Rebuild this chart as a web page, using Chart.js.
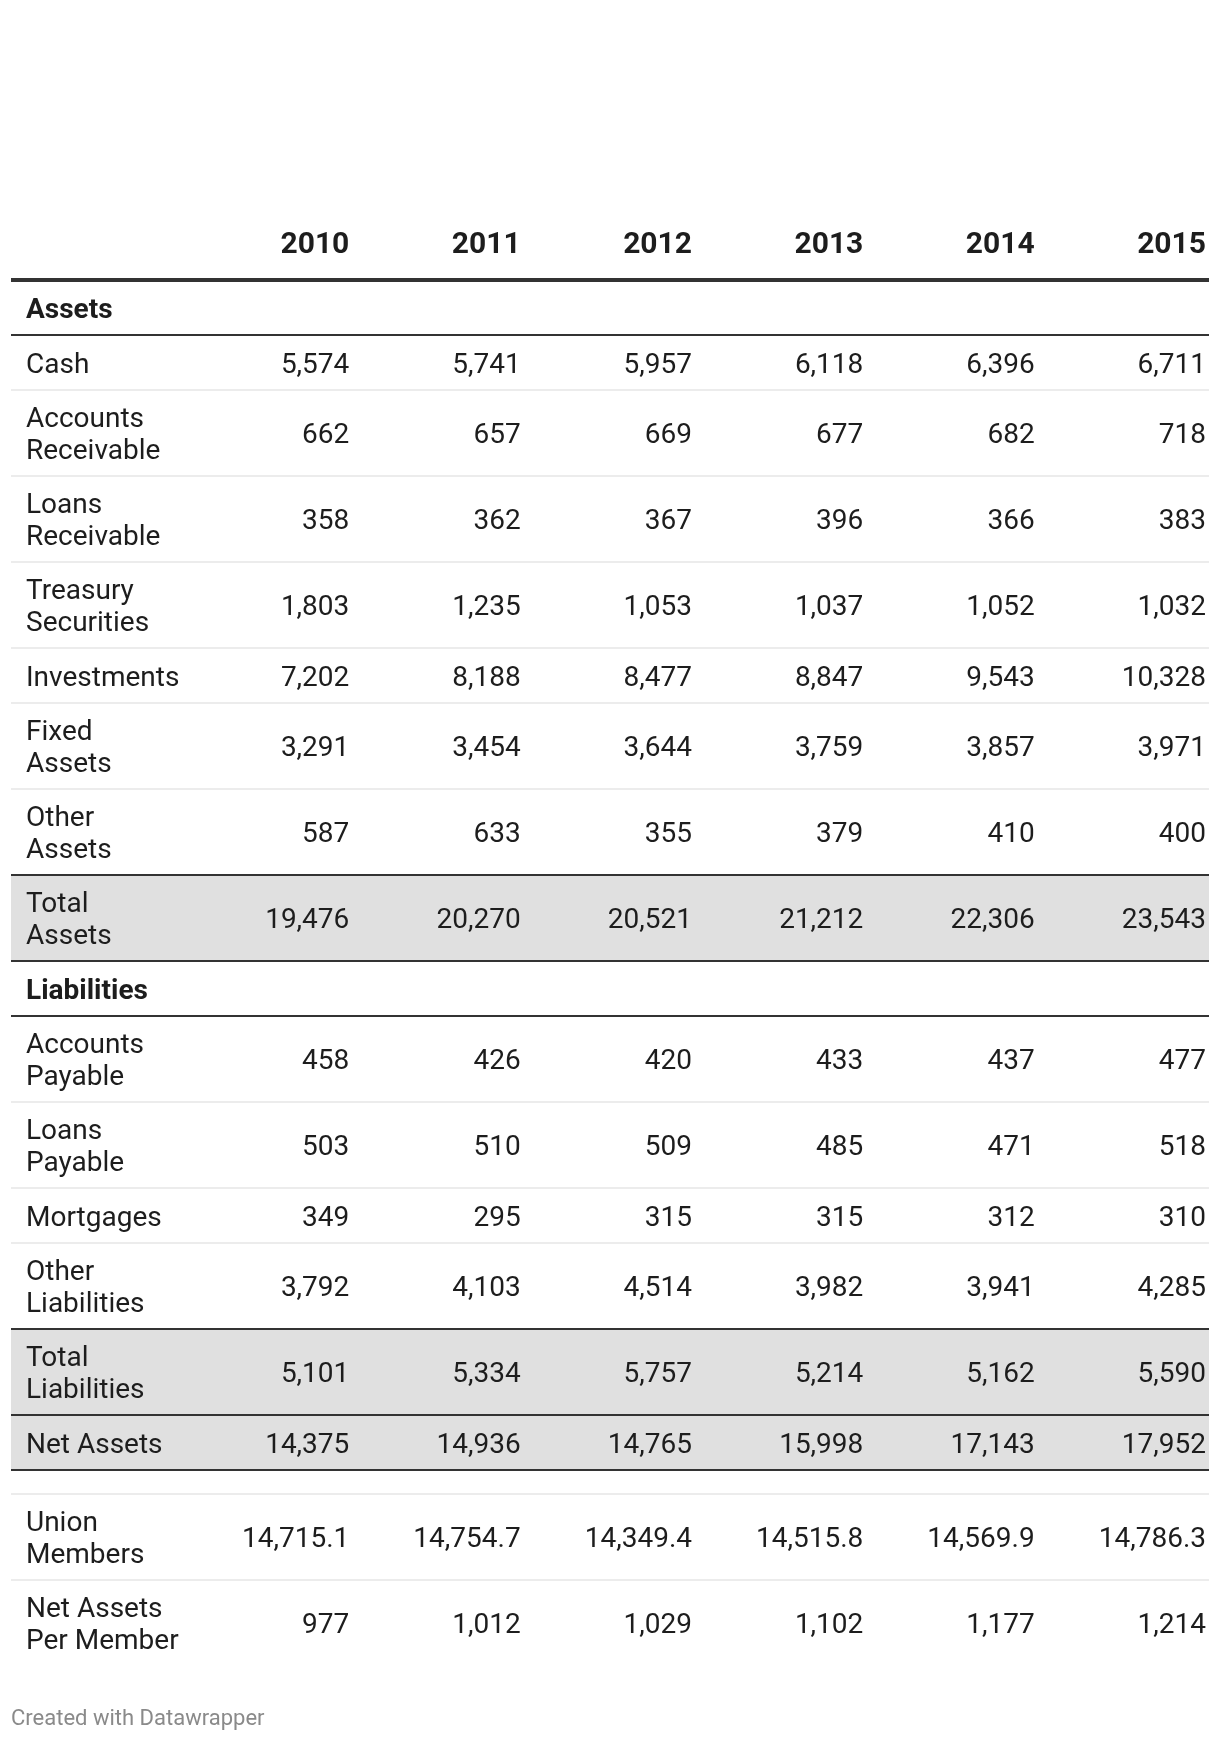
<!DOCTYPE html>
<html>
<head>
<meta charset="utf-8">
<script src="https://cdn.jsdelivr.net/npm/chart.js@4.4.1/dist/chart.umd.min.js"></script>
<style>
    html, body { margin: 0; padding: 0; background: #fff; }
    #wrap { width: 1220px; height: 1742px; }
</style>
</head>
<body>
<div id="wrap"><canvas id="tableChart" width="1220" height="1742"></canvas></div>
<script>
// columns
const years = ['2010', '2011', '2012', '2013', '2014', '2015'];

// assets (values as shown)
const cash = [5574, 5741, 5957, 6118, 6396, 6711];
const accountsReceivable = [662, 657, 669, 677, 682, 718];
const loansReceivable = [358, 362, 367, 396, 366, 383];
const treasurySecurities = [1803, 1235, 1053, 1037, 1052, 1032];
const investments = [7202, 8188, 8477, 8847, 9543, 10328];
const fixedAssets = [3291, 3454, 3644, 3759, 3857, 3971];
const otherAssets = [587, 633, 355, 379, 410, 400];
const totalAssets = [19476, 20270, 20521, 21212, 22306, 23543];

// liabilities
const accountsPayable = [458, 426, 420, 433, 437, 477];
const loansPayable = [503, 510, 509, 485, 471, 518];
const mortgages = [349, 295, 315, 315, 312, 310];
const otherLiabilities = [3792, 4103, 4514, 3982, 3941, 4285];
const totalLiabilities = [5101, 5334, 5757, 5214, 5162, 5590];
const netAssets = [14375, 14936, 14765, 15998, 17143, 17952];

// membership
const unionMembers = [14715.1, 14754.7, 14349.4, 14515.8, 14569.9, 14786.3];
const netAssetsPerMember = [977, 1012, 1029, 1102, 1177, 1214];

// rows of the table, built from the arrays above
const tableRows = [
    { kind: 'section', label: 'Assets', rule: 'dark' },
    { label: 'Cash', values: cash },
    { label: 'Accounts\nReceivable', values: accountsReceivable },
    { label: 'Loans\nReceivable', values: loansReceivable },
    { label: 'Treasury\nSecurities', values: treasurySecurities },
    { label: 'Investments', values: investments },
    { label: 'Fixed\nAssets', values: fixedAssets },
    { label: 'Other\nAssets', values: otherAssets, rule: 'dark' },
    { label: 'Total\nAssets', values: totalAssets, shaded: true, rule: 'dark' },
    { kind: 'section', label: 'Liabilities', rule: 'dark' },
    { label: 'Accounts\nPayable', values: accountsPayable },
    { label: 'Loans\nPayable', values: loansPayable },
    { label: 'Mortgages', values: mortgages },
    { label: 'Other\nLiabilities', values: otherLiabilities, rule: 'dark' },
    { label: 'Total\nLiabilities', values: totalLiabilities, shaded: true, rule: 'dark' },
    { label: 'Net Assets', values: netAssets, shaded: true, rule: 'dark' },
    { kind: 'spacer' },
    { label: 'Union\nMembers', values: unionMembers, decimals: 1 },
    { label: 'Net Assets\nPer Member', values: netAssetsPerMember, rule: 'none' }
];

// layout
const labelColumnWidth = 170;
const headerTextY = 245;
const headerRuleY = 280;
const lineGap = 32;
const textShift = 3; // canvas 'middle' sits a bit high for Roboto
const textColor = '#1d1d1d';
const fontFamily = 'Roboto, "Noto Sans", sans-serif';

function rowHeight(row) {
    if (row.kind === 'spacer') return 24;
    const lines = row.label.split('\n').length;
    return lines > 1 ? 86 : 55;
}

function fmt(v, decimals) {
    return v.toLocaleString('en-US', {
        minimumFractionDigits: decimals || 0,
        maximumFractionDigits: decimals || 0
    });
}

const tablePlugin = {
    id: 'tablePlugin',
    afterDraw(chart) {
        const { ctx, chartArea, scales: { x, y } } = chart;
        const colW = x.getPixelForValue(1) - x.getPixelForValue(0);
        const left = chartArea.left - labelColumnWidth;
        const right = chartArea.right;
        const labelX = left + 15;
        const colRight = i => x.getPixelForValue(i) + colW / 2 - 3;

        ctx.save();
        ctx.textBaseline = 'middle';

        // header
        ctx.fillStyle = textColor;
        ctx.font = 'bold 30px ' + fontFamily;
        ctx.textAlign = 'right';
        years.forEach((yr, i) => {
            ctx.fillText(yr, colRight(i), y.getPixelForValue(headerTextY));
        });
        ctx.fillStyle = '#333';
        ctx.fillRect(left, y.getPixelForValue(headerRuleY) - 2, right - left, 4);

        let cursor = headerRuleY;
        tableRows.forEach(row => {
            const top = cursor;
            const bottom = cursor + rowHeight(row);
            const yTop = y.getPixelForValue(top);
            const yBot = y.getPixelForValue(bottom);
            const mid = (yTop + yBot) / 2 + textShift;

            if (row.shaded) {
                ctx.fillStyle = '#e0e0e0';
                ctx.fillRect(left, yTop + 1, right - left, yBot - yTop - 2);
            }

            if (row.kind === 'section') {
                ctx.fillStyle = textColor;
                ctx.font = 'bold 28px ' + fontFamily;
                ctx.textAlign = 'left';
                ctx.fillText(row.label, labelX, mid);
            } else if (row.kind !== 'spacer') {
                ctx.fillStyle = textColor;
                ctx.font = '28px ' + fontFamily;
                ctx.textAlign = 'left';
                const lines = row.label.split('\n');
                lines.forEach((ln, k) => {
                    const off = (k - (lines.length - 1) / 2) * lineGap;
                    ctx.fillText(ln, labelX, mid + off);
                });
                ctx.textAlign = 'right';
                row.values.forEach((v, i) => {
                    ctx.fillText(fmt(v, row.decimals), colRight(i), mid);
                });
            }

            if (row.rule !== 'none') {
                ctx.fillStyle = row.rule === 'dark' ? '#333' : '#ececec';
                ctx.fillRect(left, yBot - 1, right - left, 2);
            }
            cursor = bottom;
        });

        // credit line
        ctx.fillStyle = '#8a8a8a';
        ctx.font = '22px ' + fontFamily;
        ctx.textAlign = 'left';
        ctx.fillText('Created with Datawrapper', left, y.getPixelForValue(1719));
        ctx.restore();
    }
};

const canvas = document.getElementById('tableChart');
new Chart(canvas.getContext('2d'), {
    type: 'bar',
    data: {
        labels: years,
        datasets: []
    },
    options: {
        responsive: false,
        animation: false,
        devicePixelRatio: 1,
        layout: { padding: { left: 181, right: 11, top: 0, bottom: 0 } },
        plugins: {
            legend: { display: false },
            tooltip: { enabled: false }
        },
        scales: {
            x: { type: 'category', offset: true, display: false },
            y: { type: 'linear', min: 0, max: 1742, reverse: true, display: false }
        }
    },
    plugins: [tablePlugin]
});
</script>
</body>
</html>
